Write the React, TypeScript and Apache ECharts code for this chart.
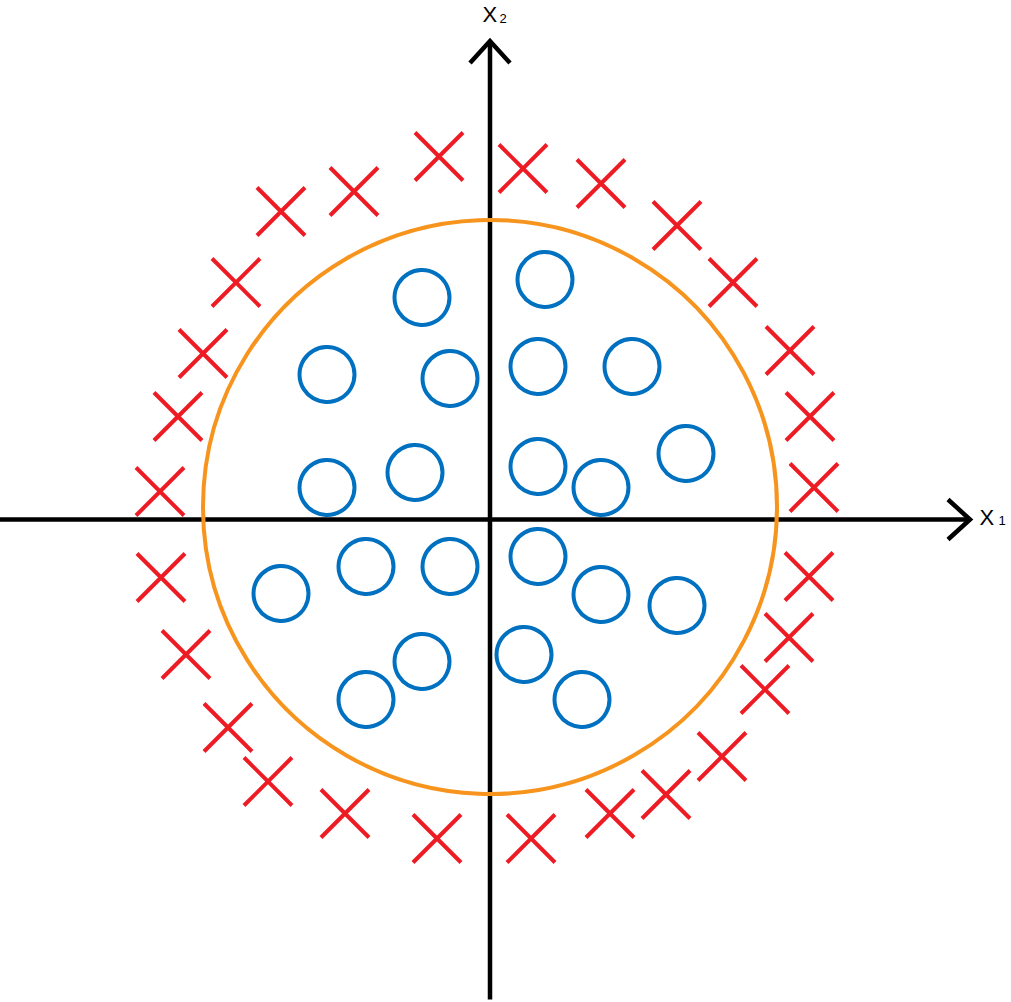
import React, { useEffect, useRef } from "react";
import * as echarts from "echarts";

// Data coordinates (origin where the two axes cross, 1 unit = 100 px)
const crossX = [-0.51, 0.33, 1.11, -1.36, -2.09, 1.87, -2.54, 2.43, -2.87, 3.0, -3.12, 3.2, -3.3, 3.24, -3.29, -3.04, -2.62, -2.22, -1.45, -0.53, 3.19, 2.99, 2.75, 2.32, 1.76, 1.2, 0.41];
const crossY = [3.63, 3.51, 3.36, 3.28, 3.08, 2.94, 2.37, 2.37, 1.66, 1.69, 1.03, 1.03, 0.28, 0.32, -0.58, -1.35, -2.08, -2.62, -2.94, -3.19, -0.57, -1.18, -1.7, -2.37, -2.75, -2.94, -3.19];

const circleX = [-0.68, 0.55, -1.63, -0.4, 0.48, 1.42, -1.63, -0.75, 0.48, 1.11, 1.96, -2.09, -1.24, -0.4, 0.48, 1.11, 1.87, -0.68, -1.24, 0.34, 0.92];
const circleY = [2.22, 2.4, 1.45, 1.41, 1.53, 1.53, 0.32, 0.47, 0.53, 0.32, 0.66, -0.74, -0.47, -0.47, -0.37, -0.75, -0.86, -1.42, -1.8, -1.35, -1.8];

// decision boundary: centre x, centre y, radius
const boundary = [0.0, 0.125, 2.87];

// axis extents
const xRange = [-4.9, 5.21];
const yRange = [-4.825, 5.195];
const xAxisLine = [-4.9, 4.8]; // start, arrow tip
const yAxisLine = [-4.8, 4.785]; // bottom, arrow tip
const arrowLen = 0.22;
const arrowHalf = 0.2;

// axis name labels: main letter and subscript
const axisNames = [
  { main: "X", sub: "1" },
  { main: "X", sub: "2" },
];

const RED = "#ED1C24";
const BLUE = "#0070C0";
const ORANGE = "#F7941D";
const BLACK = "#000000";
const FONT = "'Liberation Sans', Arial, sans-serif";

export default function App() {
  const ref = useRef<HTMLDivElement>(null);

  useEffect(() => {
    if (!ref.current) return;
    const chart = echarts.init(ref.current, undefined, { renderer: "svg" });

    const crosses = crossX.map((x, i) => [x, crossY[i]]);
    const circles = circleX.map((x, i) => [x, circleY[i]]);

    const mainStyle = (text: string) => ({ text, fontSize: 22, fontFamily: FONT, fill: BLACK, align: "left", verticalAlign: "middle" });
    const subStyle = (text: string) => ({ text, fontSize: 13, fontFamily: FONT, fill: BLACK, align: "left", verticalAlign: "middle" });

    const option: any = {
      animation: false,
      backgroundColor: "#ffffff",
      grid: { left: 0, right: 0, top: 0, bottom: 0, containLabel: false },
      xAxis: { type: "value", min: xRange[0], max: xRange[1], show: false },
      yAxis: { type: "value", min: yRange[0], max: yRange[1], show: false },
      graphic: [
        { type: "text", x: 482.5, y: 14.5, style: mainStyle(axisNames[1].main) },
        { type: "text", x: 499.5, y: 18, style: subStyle(axisNames[1].sub) },
        { type: "text", x: 979.5, y: 517.8, style: mainStyle(axisNames[0].main) },
        { type: "text", x: 998.5, y: 520.6, style: subStyle(axisNames[0].sub) },
      ],
      series: [
        {
          type: "custom",
          silent: true,
          clip: false,
          z: 1,
          data: [[0, 0]],
          renderItem: (_p: any, api: any) => {
            const c = (x: number, y: number) => api.coord([x, y]);
            const st = { stroke: BLACK, lineWidth: 4.5, fill: null, lineJoin: "miter" };
            return {
              type: "group",
              children: [
                { type: "polyline", shape: { points: [c(xAxisLine[0], 0), c(xAxisLine[1], 0)] }, style: st },
                {
                  type: "polyline",
                  shape: { points: [c(xAxisLine[1] - arrowLen, arrowHalf), c(xAxisLine[1], 0), c(xAxisLine[1] - arrowLen, -arrowHalf)] },
                  style: st,
                },
                { type: "polyline", shape: { points: [c(0, yAxisLine[0]), c(0, yAxisLine[1])] }, style: st },
                {
                  type: "polyline",
                  shape: { points: [c(-arrowHalf, yAxisLine[1] - arrowLen), c(0, yAxisLine[1]), c(arrowHalf, yAxisLine[1] - arrowLen)] },
                  style: st,
                },
              ],
            };
          },
        },
        {
          type: "custom",
          silent: true,
          clip: false,
          z: 2,
          data: [boundary],
          renderItem: (_p: any, api: any) => {
            const ctr = api.coord([api.value(0), api.value(1)]);
            const sz = api.size([api.value(2), api.value(2)]);
            return {
              type: "circle",
              shape: { cx: ctr[0], cy: ctr[1], r: sz[0] },
              style: { stroke: ORANGE, lineWidth: 4, fill: null },
            };
          },
        },
        {
          type: "custom",
          silent: true,
          clip: false,
          z: 3,
          data: crosses,
          renderItem: (_p: any, api: any) => {
            const p = api.coord([api.value(0), api.value(1)]);
            const h = 24;
            const st = { stroke: RED, lineWidth: 4 };
            return {
              type: "group",
              children: [
                { type: "line", shape: { x1: p[0] - h, y1: p[1] - h, x2: p[0] + h, y2: p[1] + h }, style: st },
                { type: "line", shape: { x1: p[0] - h, y1: p[1] + h, x2: p[0] + h, y2: p[1] - h }, style: st },
              ],
            };
          },
        },
        {
          type: "scatter",
          silent: true,
          z: 3,
          symbol: "circle",
          symbolSize: 55,
          data: circles,
          itemStyle: { color: "rgba(0,0,0,0)", borderColor: BLUE, borderWidth: 4, opacity: 1 },
        },
      ],
    };

    chart.setOption(option);
    return () => chart.dispose();
  }, []);

  return (
    <div
      ref={ref}
      style={{ position: "fixed", left: 0, top: 0, width: 1011, height: 1002, background: "#fff" }}
    />
  );
}
